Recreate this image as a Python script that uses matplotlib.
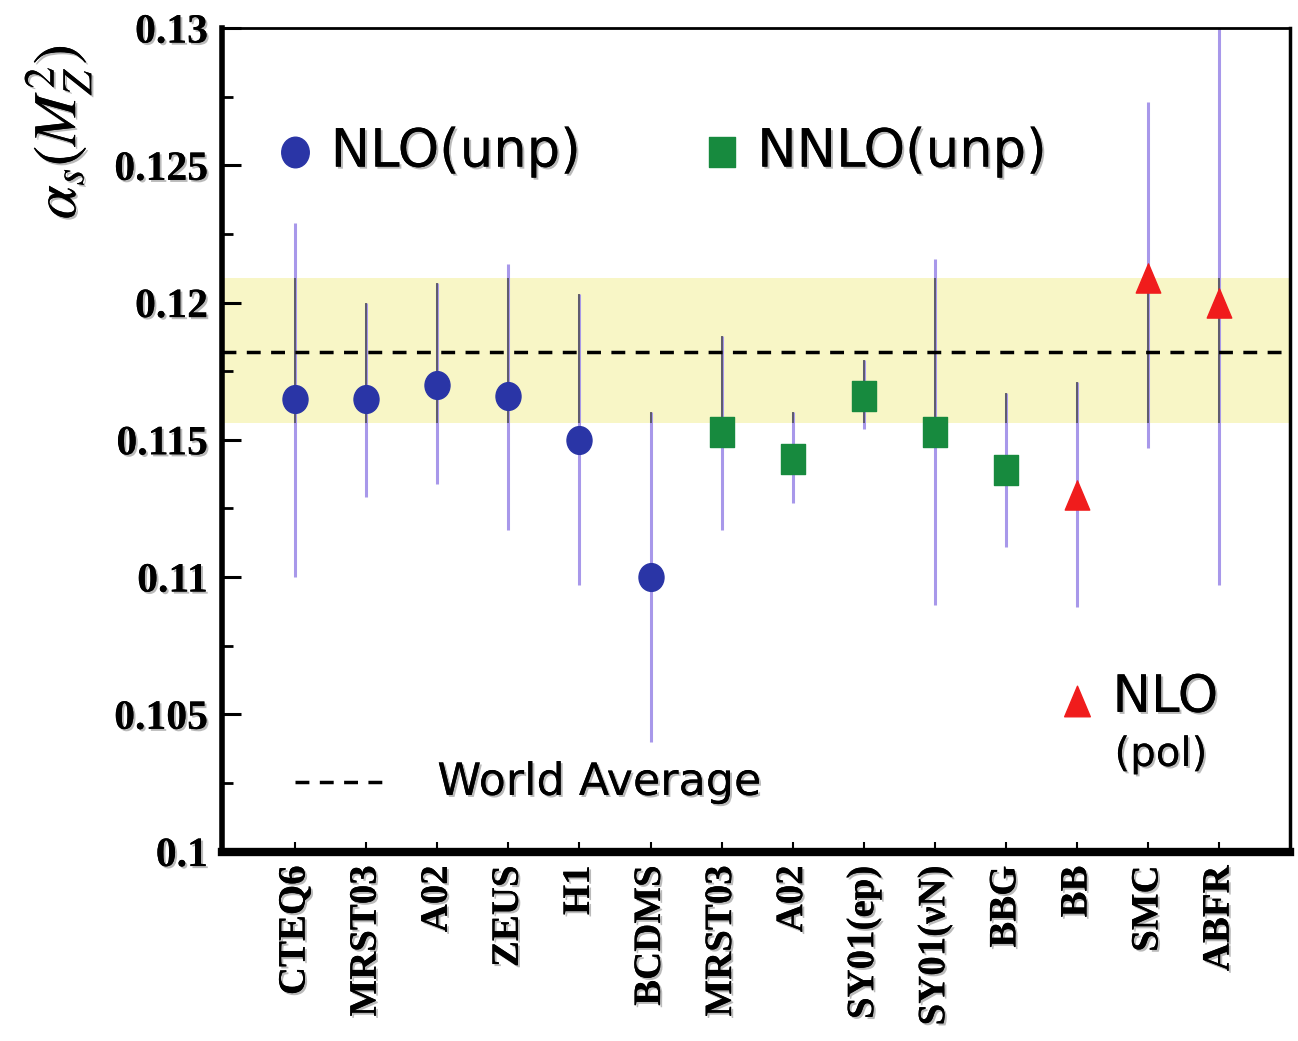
import numpy as np
import matplotlib
matplotlib.use("Agg")
import matplotlib.pyplot as plt
import matplotlib.patheffects as pe
from matplotlib.patches import Rectangle
from matplotlib.path import Path
from matplotlib.transforms import Affine2D

# --- data ---
labels = ["CTEQ6", "MRST03", "A02", "ZEUS", "H1", "BCDMS",
          "MRST03", "A02", "SY01(ep)", "SY01(νN)", "BBG",
          "BB", "SMC", "ABFR"]

nlo_idx = [0, 1, 2, 3, 4, 5]
nlo_val = [0.1165, 0.1165, 0.1170, 0.1166, 0.1150, 0.1100]
nlo_hi = [0.1229, 0.1200, 0.1207, 0.1214, 0.1203, 0.1160]
nlo_lo = [0.1100, 0.1129, 0.1134, 0.1117, 0.1097, 0.1040]

nnlo_idx = [6, 7, 8, 9, 10]
nnlo_val = [0.1153, 0.1143, 0.1166, 0.1153, 0.1139]
nnlo_hi = [0.1188, 0.1160, 0.1179, 0.1216, 0.1167]
nnlo_lo = [0.1117, 0.1127, 0.1154, 0.1090, 0.1111]

pol_idx = [11, 12, 13]
pol_val = [0.1130, 0.1209, 0.1200]
pol_hi = [0.1171, 0.1273, 0.1320]
pol_lo = [0.1089, 0.1147, 0.1097]

world_avg = 0.1182
band_lo, band_hi = 0.1156, 0.1209

plt.rcParams['font.family'] = ['DejaVu Sans']
plt.rcParams['mathtext.fontset'] = 'stix'

# the original is a bit squeezed sideways, so markers are slightly tall
circ = Path.unit_circle().transformed(Affine2D().scale(0.9, 1.0))
sq = Path([(-0.42, -0.5), (0.42, -0.5), (0.42, 0.5), (-0.42, 0.5), (-0.42, -0.5)],
          [Path.MOVETO, Path.LINETO, Path.LINETO, Path.LINETO, Path.CLOSEPOLY])
tri = Path([(-0.42, -0.5), (0.42, -0.5), (0.0, 0.5), (-0.42, -0.5)],
           [Path.MOVETO, Path.LINETO, Path.LINETO, Path.CLOSEPOLY])

fig = plt.figure(figsize=(12.98, 10.41), dpi=100)
ax = fig.add_axes([0.171, 0.182, 0.823, 0.791])
ax.set_xlim(-1.03, 14.0)
ax.set_ylim(0.1, 0.13)

shadow = [pe.withSimplePatchShadow(offset=(1.5, -1.5), shadow_rgbFace='0.55', alpha=0.6), pe.Normal()]

# world average band
ax.axhspan(band_lo, band_hi, color='#f8f6c6', zorder=0, lw=0)

groups = [(nlo_idx, nlo_val, nlo_lo, nlo_hi, circ, '#2a35a6', 20),
          (nnlo_idx, nnlo_val, nnlo_lo, nnlo_hi, sq, '#178a3e', 21),
          (pol_idx, pol_val, pol_lo, pol_hi, tri, '#f01c1c', 21)]

for idx, val, lo, hi, mk, col, ms in groups:
    idx = np.array(idx)
    val = np.array(val)
    err = [val - np.array(lo), np.array(hi) - val]
    ax.errorbar(idx, val, yerr=err, fmt='none', ecolor='#a898ea', elinewidth=2.2, capsize=0, zorder=2)
    # darker look of the bars inside the yellow band
    eb = ax.errorbar(idx, val, yerr=err, fmt='none', ecolor='#4a4a4a', elinewidth=1.1, capsize=0, zorder=3)
    clip = Rectangle((-1.03, band_lo), 15.03, band_hi - band_lo, transform=ax.transData)
    for coll in eb.lines[2]:
        coll.set_clip_path(clip)
    ax.plot(idx, val, linestyle='none', marker=mk, color=col, markersize=ms,
            markeredgecolor=col, markeredgewidth=1.0, zorder=4)

ax.axhline(world_avg, color='black', lw=2.5, dashes=(4, 3), zorder=3)

# in-plot legend
ax.plot([0], [0.1255], marker=circ, color='#2a35a6', markersize=22, zorder=4)
ax.text(0.5, 0.1255, "NLO(unp)", fontsize=38, va='center', ha='left', path_effects=shadow)
ax.plot([6], [0.1255], marker=sq, color='#178a3e', markersize=22, zorder=4)
ax.text(6.5, 0.1255, "NNLO(unp)", fontsize=38, va='center', ha='left', path_effects=shadow)
ax.plot([11], [0.1055], marker=tri, color='#f01c1c', markersize=22, zorder=4)
ax.text(11.5, 0.1056, "NLO", fontsize=37, va='center', ha='left', path_effects=shadow)
ax.text(12.18, 0.10352, "(pol)", fontsize=29, va='center', ha='center', path_effects=shadow)
ax.plot([0, 1.35], [0.10252, 0.10252], color='black', lw=2.5, dashes=(4, 3))
ax.text(2.0, 0.10252, "World Average", fontsize=32, va='center', ha='left', path_effects=shadow)

# axes styling
ax.set_xticks(range(len(labels)))
ax.set_xticklabels(labels, rotation=90, fontsize=28, fontweight='bold',
                   family='Liberation Serif', va='top')
ax.set_yticks([0.1, 0.105, 0.11, 0.115, 0.12, 0.125, 0.13])
ax.set_yticklabels(['0.1', '0.105', '0.11', '0.115', '0.12', '0.125', '0.13'],
                   fontsize=30, fontweight='bold', family='Liberation Serif')
ax.set_yticks(np.arange(0.1025, 0.13, 0.005), minor=True)
ax.tick_params(axis='y', which='major', direction='in', length=14, width=2.2, pad=10)
ax.tick_params(axis='y', which='minor', direction='in', length=8, width=2.0)
ax.tick_params(axis='x', which='major', direction='in', length=7, width=1.5, pad=10)
for t in ax.get_xticklabels() + ax.get_yticklabels():
    t.set_path_effects(shadow)

ax.spines['left'].set_linewidth(4)
ax.spines['bottom'].set_linewidth(6)
ax.spines['top'].set_linewidth(2)
ax.spines['right'].set_linewidth(2.5)

fig.text(58 / 1298, 1 - 132 / 1041, r'$\alpha_s(M_Z^2)$', rotation=90, fontsize=44,
         ha='center', va='center', path_effects=shadow)

fig.savefig("out.png", dpi=100)
